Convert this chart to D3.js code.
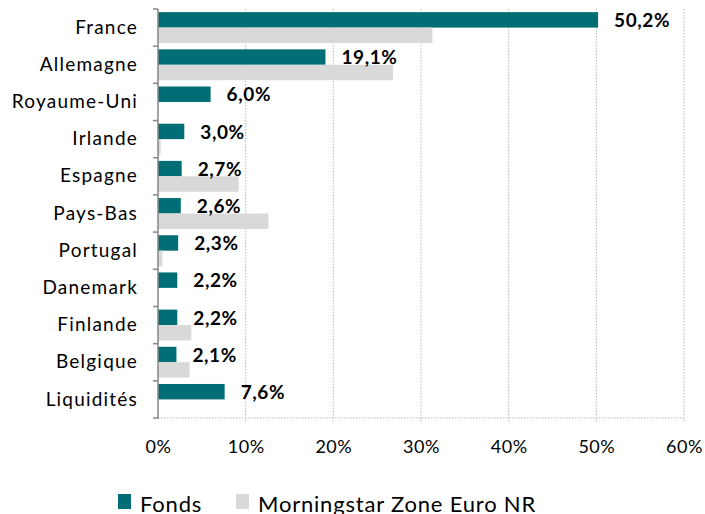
<!DOCTYPE html>
<html>
<head>
<meta charset="utf-8">
<script src="https://cdn.jsdelivr.net/npm/d3@7"></script>
<style>
  body { margin: 0; background: #fff; }
  svg text { font-family: Lato, "Open Sans", sans-serif; }
</style>
</head>
<body>
<div id="chart"></div>
<script>
var categories = ["France", "Allemagne", "Royaume-Uni", "Irlande", "Espagne", "Pays-Bas",
                  "Portugal", "Danemark", "Finlande", "Belgique", "Liquidités"];
var fonds = [50.2, 19.1, 6.0, 3.0, 2.7, 2.6, 2.3, 2.2, 2.2, 2.1, 7.6];
var indice = [31.3, 26.8, 0, 0.3, 9.2, 12.6, 0.5, 0, 3.8, 3.6, 0];
var xTicks = [0, 10, 20, 30, 40, 50, 60];
var seriesNames = ["Fonds", "Morningstar Zone Euro NR"];
var colors = ["#006e74", "#d9d9d9"];

var width = 705, height = 514;
var margin = {top: 9, right: 21, bottom: 96, left: 158};

var svg = d3.select("#chart").append("svg")
    .attr("width", width)
    .attr("height", height);

var x = d3.scaleLinear().domain([0, 60]).range([margin.left, width - margin.right]);
var y = d3.scaleBand().domain(categories)
    .range([margin.top, height - margin.bottom])
    .paddingInner(0.17).paddingOuter(0.085);
var sub = d3.scaleBand().domain([0, 1]).range([0, y.bandwidth()]);

var bottomY = height - margin.bottom;

// vertical dotted gridlines
svg.append("g").selectAll("line")
    .data(xTicks.slice(1))
    .enter().append("line")
    .attr("x1", function(d){ return x(d); })
    .attr("x2", function(d){ return x(d); })
    .attr("y1", margin.top)
    .attr("y2", bottomY + 5)
    .attr("stroke", "#b8b8b8")
    .attr("stroke-width", 1)
    .attr("stroke-dasharray", "1.5,1.5");

// bottom dotted axis line
svg.append("line")
    .attr("x1", x(0)).attr("x2", x(60))
    .attr("y1", bottomY).attr("y2", bottomY)
    .attr("stroke", "#b8b8b8")
    .attr("stroke-dasharray", "1.5,1.5");

// bars
var groups = svg.append("g").selectAll("g")
    .data(categories)
    .enter().append("g")
    .attr("transform", function(d){ return "translate(0," + y(d) + ")"; });

groups.append("rect")
    .attr("x", x(0))
    .attr("y", sub(0))
    .attr("height", sub.bandwidth())
    .attr("width", function(d, i){ return x(fonds[i]) - x(0); })
    .attr("fill", colors[0]);

groups.append("rect")
    .attr("x", x(0))
    .attr("y", sub(1))
    .attr("height", sub.bandwidth())
    .attr("width", function(d, i){ return x(indice[i]) - x(0); })
    .attr("fill", colors[1]);

// value labels
groups.append("text")
    .attr("x", function(d, i){ return x(fonds[i]) + 16; })
    .attr("y", sub(0) + sub.bandwidth() / 2)
    .attr("dy", "0.38em")
    .attr("font-size", "19px")
    .attr("font-weight", "bold")
    .attr("letter-spacing", "0.6px")
    .attr("fill", "#000")
    .text(function(d, i){ return fonds[i].toFixed(1).replace(".", ",") + "%"; });

// left axis
var yAxis = svg.append("g")
    .attr("transform", "translate(" + x(0) + ",0)")
    .call(d3.axisLeft(y).tickSize(0).tickPadding(20));
yAxis.select(".domain").remove();
yAxis.selectAll("text")
    .attr("font-size", "19px")
    .attr("letter-spacing", "1.2px")
    .attr("fill", "#000");

svg.append("line")
    .attr("x1", x(0)).attr("x2", x(0))
    .attr("y1", margin.top).attr("y2", bottomY + 1)
    .attr("stroke", "#868686")
    .attr("stroke-width", 1.5);

// small tick marks between categories
svg.append("g").selectAll("line")
    .data(d3.range(categories.length + 1))
    .enter().append("line")
    .attr("x1", x(0) - 5).attr("x2", x(0))
    .attr("y1", function(i){ return margin.top + i * (bottomY - margin.top) / categories.length; })
    .attr("y2", function(i){ return margin.top + i * (bottomY - margin.top) / categories.length; })
    .attr("stroke", "#868686")
    .attr("stroke-width", 1.5);

// bottom tick labels
var xAxis = svg.append("g")
    .attr("transform", "translate(0," + bottomY + ")")
    .call(d3.axisBottom(x).tickValues(xTicks).tickSize(0).tickPadding(22)
        .tickFormat(function(d){ return d + "%"; }));
xAxis.select(".domain").remove();
xAxis.selectAll("text")
    .attr("font-size", "18px")
    .attr("letter-spacing", "0.5px")
    .attr("fill", "#000");

// legend
var legendX = [118, 236];
var legend = svg.append("g").selectAll("g")
    .data(seriesNames)
    .enter().append("g")
    .attr("transform", function(d, i){ return "translate(" + legendX[i] + ",0)"; });
legend.append("rect")
    .attr("x", 0).attr("y", 494)
    .attr("width", 13).attr("height", 15)
    .attr("fill", function(d, i){ return colors[i]; });
legend.append("text")
    .attr("x", 22).attr("y", 512)
    .attr("font-size", "22px")
    .attr("letter-spacing", "0.8px")
    .attr("fill", "#000")
    .text(function(d){ return d; });
</script>
</body>
</html>
